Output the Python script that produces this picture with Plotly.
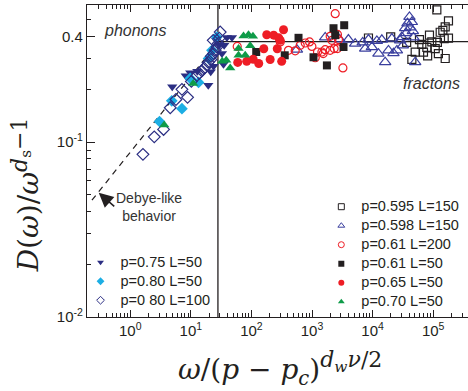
import plotly.graph_objects as go

# ---------------- data ----------------
# p=0.75 L=50 (filled navy down-triangles)
p075_L50_x = [4.93, 8.24, 19.4, 21.3, 32.6, 39.4, 47.7, 35.5, 26.2, 29.5, 23.7, 34.6, 9.77, 12.8]
p075_L50_y = [0.207, 0.239, 0.211, 0.252, 0.321, 0.396, 0.396, 0.357, 0.381, 0.361, 0.271, 0.278, 0.249, 0.254]

# p=0.80 L=50 (filled cyan diamonds)
p080_L50_x = [3.04, 4.84, 7.13, 13.4, 19.6, 22.3, 26.9, 9.77]
p080_L50_y = [0.131, 0.172, 0.155, 0.219, 0.300, 0.334, 0.398, 0.231]

# p=0.80 L=100 (open navy diamonds)
p080_L100_x = [1.62, 2.49, 3.55, 4.57, 5.68, 7.13, 8.83, 10.2, 12.6, 15.2, 18.4, 21.4, 23.7,
               26.9, 30.5, 23.4, 16.6, 19.4, 13.8, 21.7, 25.2, 28.3, 29.5]
p080_L100_y = [0.085, 0.107, 0.118, 0.157, 0.175, 0.200, 0.180, 0.222, 0.240, 0.255, 0.274, 0.296, 0.320,
               0.349, 0.425, 0.381, 0.264, 0.285, 0.247, 0.309, 0.334, 0.366, 0.392]

# p=0.595 L=150 (open black squares)
p0595_L150_x = [8550, 19900, 36500, 44500, 50500, 59400, 65000, 69200, 78700, 86900, 95000, 81100,
                108000, 115000, 122000, 130600, 144500, 158000, 179000, 152000, 179000, 158000, 117500]
p0595_L150_y = [0.393, 0.399, 0.371, 0.297, 0.326, 0.385, 0.361, 0.326, 0.347, 0.408, 0.373, 0.311,
                0.342, 0.569, 0.320, 0.424, 0.435, 0.455, 0.493, 0.390, 0.392, 0.300, 0.371]

# p=0.598 L=150 (open blue up-triangles)
p0598_L150_x = [564, 1652, 2865, 3990, 5160, 6870, 7550, 8550, 9730, 11770, 12500, 14220, 16140, 18300,
                20800, 22100, 25200, 28500, 30400, 31600, 34500, 37700, 40600, 44500, 46200, 47300,
                50500, 35800, 41700]
p0598_L150_y = [0.337, 0.396, 0.386, 0.385, 0.365, 0.371, 0.342, 0.385, 0.349, 0.378, 0.320, 0.384, 0.286,
                0.334, 0.390, 0.322, 0.334, 0.381, 0.398, 0.357, 0.447, 0.477, 0.519, 0.485, 0.430,
                0.396, 0.286, 0.419, 0.452]

# p=0.61 L=200 (open red circles)
p061_L200_x = [58.3, 299, 409, 528, 639, 773, 910, 996, 1130, 1233, 1457, 1652, 1995, 2128, 1995,
               2630, 2735, 2323, 2630, 2415, 3236, 1531]
p061_L200_y = [0.352, 0.373, 0.334, 0.332, 0.357, 0.368, 0.373, 0.352, 0.303, 0.327, 0.327, 0.337, 0.334,
               0.381, 0.402, 0.412, 0.385, 0.342, 0.342, 0.541, 0.265, 0.320]

# p=0.61 L=50 (filled black squares)
p061_L50_x = [120, 355, 599, 1059, 1762, 2265, 3400, 2416, 3311]
p061_L50_y = [0.327, 0.313, 0.394, 0.305, 0.274, 0.447, 0.465, 0.408, 0.349]

# p=0.65 L=50 (filled red circles)
p065_L50_x = [59.4, 83.6, 107, 132, 160, 179, 204, 233, 267, 282, 316, 339, 299]
p065_L50_y = [0.285, 0.289, 0.297, 0.281, 0.341, 0.410, 0.296, 0.408, 0.341, 0.394, 0.289, 0.438, 0.381]

# p=0.70 L=50 (filled green up-triangles)
p070_L50_x = [3.64, 10.96, 33, 44.7, 61.3, 61.3, 74.1, 89.5, 106, 95.5, 79, 38.4]
p070_L50_y = [0.125, 0.216, 0.289, 0.265, 0.342, 0.313, 0.404, 0.410, 0.402, 0.355, 0.313, 0.293]

# guide lines
debye_x = [0.233, 28]
debye_y = [0.0465, 0.37]
crossover_x = 28
plateau_y = 0.375

x_range_log = [-0.714, 5.575]
y_range_log = [-2.0, -0.217]

x_tickvals = [1, 10, 100, 1000, 10000, 100000]
x_ticktext = ["10<sup>0</sup>", "10<sup>1</sup>", "10<sup>2</sup>", "10<sup>3</sup>", "10<sup>4</sup>", "10<sup>5</sup>"]
y_tickvals = [0.01, 0.1, 0.4]
y_ticktext = ["10<sup>-2</sup>", "10<sup>-1</sup>", "0.4"]

# ---------------- styles ----------------
NAVY = "#2B2E83"
CYAN = "#1CAEE4"
BLUE = "#3A3F9E"
RED = "#EE1D25"
GREEN = "#0E9B48"
BLACK = "#231F20"

series = [
    # name, x, y, symbol, color, size, legend
    ("p=0.75 L=50", p075_L50_x, p075_L50_y, "triangle-down", NAVY, 9, "legend"),
    ("p=0.80 L=50", p080_L50_x, p080_L50_y, "diamond", CYAN, 9, "legend"),
    ("p=0 80 L=100", p080_L100_x, p080_L100_y, "diamond-open", NAVY, 9, "legend"),
    ("p=0.595 L=150", p0595_L150_x, p0595_L150_y, "square-open", BLACK, 8, "legend2"),
    ("p=0.598 L=150", p0598_L150_x, p0598_L150_y, "triangle-up-open", BLUE, 10, "legend2"),
    ("p=0.61 L=200", p061_L200_x, p061_L200_y, "circle-open", RED, 8, "legend2"),
    ("p=0.61 L=50", p061_L50_x, p061_L50_y, "square", BLACK, 8, "legend2"),
    ("p=0.65 L=50", p065_L50_x, p065_L50_y, "circle", RED, 9, "legend2"),
    ("p=0.70 L=50", p070_L50_x, p070_L50_y, "triangle-up", GREEN, 9, "legend2"),
]

fig = go.Figure()

# guide lines (drawn first)
fig.add_trace(go.Scatter(x=debye_x, y=debye_y, mode="lines",
                         line=dict(color=BLACK, width=1.2, dash="6px,5px"), showlegend=False, hoverinfo="skip"))
fig.add_trace(go.Scatter(x=[crossover_x, crossover_x], y=[10 ** y_range_log[0], 10 ** y_range_log[1]], mode="lines",
                         line=dict(color=BLACK, width=1.3), showlegend=False, hoverinfo="skip"))
fig.add_trace(go.Scatter(x=[crossover_x, 10 ** x_range_log[1]], y=[plateau_y, plateau_y], mode="lines",
                         line=dict(color=BLACK, width=1.3), showlegend=False, hoverinfo="skip"))

for name, xs, ys, sym, col, sz, _ in series:
    open_ = sym.endswith("-open")
    fig.add_trace(go.Scatter(
        x=xs, y=ys, mode="markers", name=name, showlegend=False,
        marker=dict(symbol=sym, color=col, size=sz,
                    line=dict(color=col, width=1.2 if open_ else 0)),
    ))

# legend-only entries (small markers); text drawn at 14.5px, row spacing set by legend font size
for name, xs, ys, sym, col, sz, leg in series:
    open_ = sym.endswith("-open")
    fig.add_trace(go.Scatter(
        x=[None], y=[None], mode="markers", legend=leg, showlegend=True,
        name="<span style='font-size:14.5px'>" + name + "</span>",
        marker=dict(symbol=sym, color=col, size=6,
                    line=dict(color=col, width=1 if open_ else 0)),
    ))

axis_font = dict(family="Liberation Sans, Arial", size=15, color=BLACK)

fig.update_xaxes(
    type="log", range=x_range_log, showline=True, linecolor=BLACK, linewidth=1.3,
    mirror="allticks", ticks="inside", ticklen=7, tickwidth=1, tickcolor=BLACK,
    tickvals=x_tickvals, ticktext=x_ticktext, tickfont=axis_font, showgrid=False, zeroline=False,
    minor=dict(ticks="inside", ticklen=4, tickcolor=BLACK, tickwidth=1, showgrid=False,
               tickvals=[m * 10 ** e for e in range(-1, 6) for m in range(2, 10)]),
)
fig.update_yaxes(
    type="log", range=y_range_log, showline=True, linecolor=BLACK, linewidth=1.3,
    mirror=False, ticks="inside", ticklen=8, tickwidth=1, tickcolor=BLACK,
    tickvals=y_tickvals, ticktext=y_ticktext, tickfont=axis_font, showgrid=False, zeroline=False,
    minor=dict(ticks="inside", ticklen=4, tickcolor=BLACK, tickwidth=1, showgrid=False,
               tickvals=[m * 10 ** e for e in range(-2, 0) for m in range(2, 10)]),
)

label_font = dict(family="Liberation Sans, Arial", size=16, color="#333333")
title_font = dict(family="DejaVu Serif, Liberation Serif", size=28, color=BLACK)

annotations = [
    dict(text="<i>phonons</i>", x=0.126, y=0.918, xref="paper", yref="paper",
         xanchor="center", yanchor="middle", showarrow=False, font=label_font),
    dict(text="<i>fractons</i>", x=0.903, y=0.748, xref="paper", yref="paper",
         xanchor="center", yanchor="middle", showarrow=False, font=label_font),
    dict(text="Debye-like<br>behavior", x=0.163, y=0.351, xref="paper", yref="paper",
         xanchor="center", yanchor="middle", showarrow=False,
         font=dict(family="Liberation Sans, Arial", size=14, color="#333333")),
    dict(text="", x=-0.52, y=-1.29, xref="x", yref="y", showarrow=True,
         ax=17, ay=15, arrowhead=2, arrowsize=1.8, arrowwidth=1.6, arrowcolor=BLACK),
    dict(text="<i>D</i>(<i>ω</i>)/<i>ω</i><sup><span style='font-size:22px'><i>d</i><sub>s</sub>−1</span></sup>",
         x=-0.16, y=0.39, xref="paper", yref="paper", textangle=-90,
         showarrow=False, font=title_font, xanchor="center", yanchor="middle"),
    dict(text="<i>ω</i>/(<i>p</i> − <i>p</i><sub><i>c</i></sub>)<sup><span style='font-size:22px'><i>d</i><sub><i>w</i></sub><i>ν</i>/2</span></sup>",
         x=0.507, y=-0.165, xref="paper", yref="paper",
         showarrow=False, font=title_font, xanchor="center", yanchor="middle"),
]

legend_font = dict(family="Liberation Sans, Arial", size=11.5, color=BLACK)
fig.update_layout(
    width=468, height=391,
    margin=dict(l=87, r=0, t=5, b=74),
    paper_bgcolor="white", plot_bgcolor="white",
    annotations=annotations,
    legend=dict(x=-0.017, y=0.222, xanchor="left", yanchor="top", bgcolor="rgba(0,0,0,0)",
                font=legend_font, tracegroupgap=0, itemsizing="trace"),
    legend2=dict(x=0.615, y=0.40, xanchor="left", yanchor="top", bgcolor="rgba(0,0,0,0)",
                 font=legend_font, tracegroupgap=0, itemsizing="trace"),
)

fig.write_html("out.html")
